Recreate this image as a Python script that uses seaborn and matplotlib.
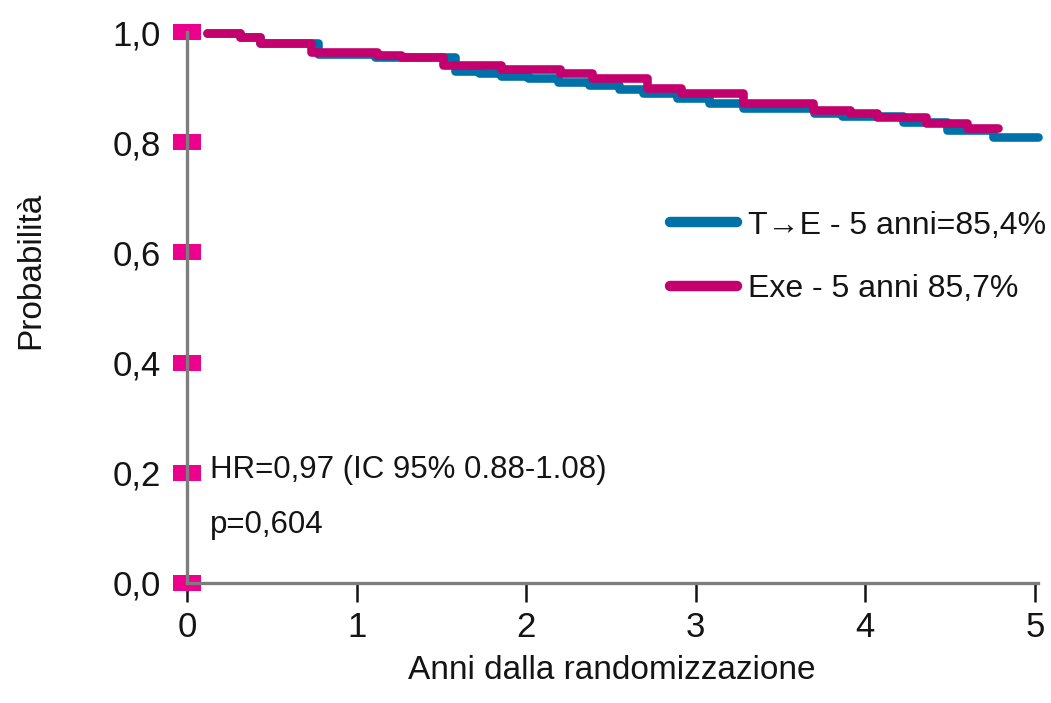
import matplotlib
matplotlib.use("Agg")
import matplotlib.pyplot as plt
from matplotlib.lines import Line2D
import pandas as pd
import seaborn as sns

# Kaplan-Meier style step curves for the two treatment arms
arms = ["T→E", "Exe"]

te_years = [0.12, 0.31, 0.43, 0.77, 1.11, 1.58, 1.72, 1.85, 2.01, 2.19, 2.37,
            2.55, 2.69, 2.89, 3.08, 3.28, 3.70, 3.86, 4.22, 4.48, 4.75, 5.02]
te_prob = [0.998, 0.991, 0.980, 0.960, 0.955, 0.929, 0.926, 0.920, 0.917, 0.909, 0.904,
           0.897, 0.889, 0.880, 0.871, 0.862, 0.853, 0.848, 0.837, 0.822, 0.809, 0.809]

exe_years = [0.12, 0.31, 0.43, 0.73, 1.12, 1.26, 1.51, 1.85, 2.20, 2.39, 2.71,
             2.91, 3.28, 3.69, 3.91, 4.07, 4.36, 4.60, 4.78]
exe_prob = [0.998, 0.991, 0.980, 0.964, 0.958, 0.955, 0.940, 0.933, 0.926, 0.917, 0.898,
            0.889, 0.871, 0.858, 0.853, 0.846, 0.835, 0.826, 0.826]

legend_labels = ["T→E - 5 anni=85,4%", "Exe - 5 anni 85,7%"]
x_ticks = [0, 1, 2, 3, 4, 5]
y_ticks = [0.0, 0.2, 0.4, 0.6, 0.8, 1.0]
y_tick_labels = ["0,0", "0,2", "0,4", "0,6", "0,8", "1,0"]
stats_lines = ["HR=0,97 (IC 95% 0.88-1.08)", "p=0,604"]

arm_colors = {"T→E": "#0070A8", "Exe": "#C4006E"}
tick_pink = "#EC008C"
axis_grey = "#7d7d7d"
text_color = "#141414"

df = pd.concat([
    pd.DataFrame({"anni": te_years, "prob": te_prob, "braccio": arms[0]}),
    pd.DataFrame({"anni": exe_years, "prob": exe_prob, "braccio": arms[1]}),
], ignore_index=True)

sns.set_style("white")
plt.rcParams["font.family"] = ["Liberation Sans Narrow", "Liberation Sans", "DejaVu Sans"]

fig = plt.figure(figsize=(10.51, 7.03), dpi=100)
ax = fig.add_axes([187 / 1051, 120 / 703, 850.5 / 1051, 551 / 703])

sns.lineplot(data=df, x="anni", y="prob", hue="braccio", hue_order=arms,
             palette=arm_colors, estimator=None, drawstyle="steps-post",
             linewidth=6.2, legend=False, ax=ax, clip_on=False, zorder=3)

ax.set_xlim(0, 5.015)
ax.set_ylim(0, 1.0)
ax.set_xticks(x_ticks)
ax.set_xticklabels([str(t) for t in x_ticks])
ax.set_yticks(y_ticks)
ax.set_yticklabels(y_tick_labels)

for side in ("top", "right"):
    ax.spines[side].set_visible(False)
for side in ("left", "bottom"):
    ax.spines[side].set_color(axis_grey)
    ax.spines[side].set_linewidth(2.4)
    ax.spines[side].set_zorder(1)

# pink block markers on the probability axis, short dark ticks on the time axis
ax.tick_params(axis="y", left=True, direction="inout", length=20, width=11.5,
               color=tick_pink, pad=9, labelsize=25, labelcolor=text_color)
ax.tick_params(axis="x", bottom=True, direction="out", length=14, width=1.8,
               color=text_color, pad=6, labelsize=25, labelcolor=text_color)

ax.set_xlabel("Anni dalla randomizzazione", fontsize=24, color=text_color, labelpad=8)
ax.set_ylabel("Probabilità", fontsize=24, color=text_color)
ax.yaxis.set_label_coords(-0.165, 0.568)

handles = [Line2D([], [], color=arm_colors[a], linewidth=7.5) for a in arms]
ax.legend(handles, legend_labels, loc="center left", bbox_to_anchor=(0.568, 0.591),
          frameon=False, borderpad=0, borderaxespad=0, handlelength=2.1,
          handletextpad=0.35, labelspacing=1.05, fontsize=23, labelcolor=text_color)

ax.text(0.136, 0.205, stats_lines[0], fontsize=22.5, va="center", ha="left", color=text_color)
ax.text(0.136, 0.105, stats_lines[1], fontsize=22.5, va="center", ha="left", color=text_color)

fig.savefig("out.png", dpi=100, facecolor="white")
